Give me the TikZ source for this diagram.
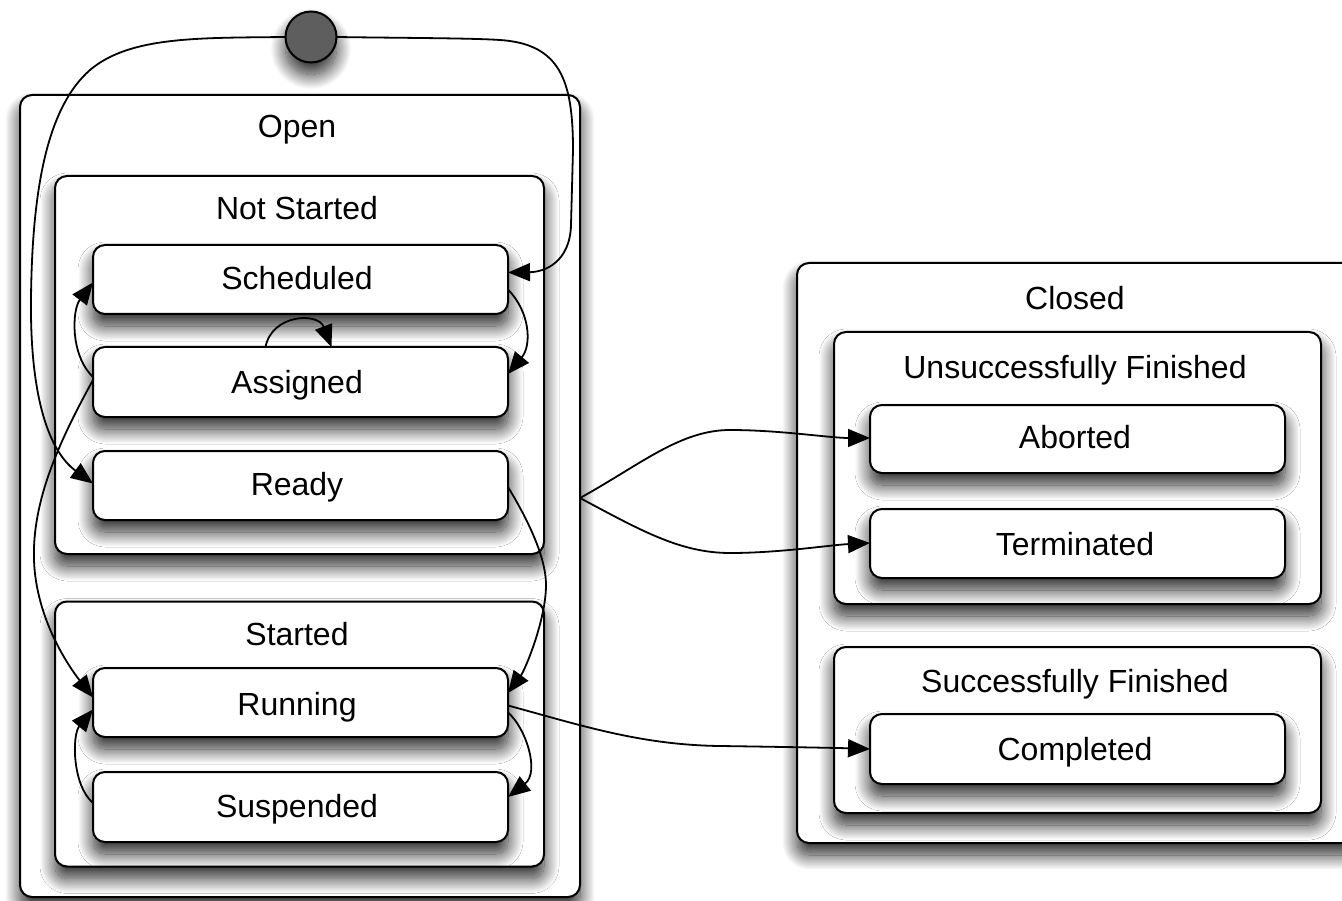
\documentclass[tikz,border=0pt]{standalone}
\usepackage{fontspec}
\setmainfont{Liberation Sans}
\usetikzlibrary{arrows.meta,calc,shadows.blur}

\begin{document}
\begin{tikzpicture}[x=1pt,y=-1pt,
  shade/.style={blur shadow={shadow xshift=0pt,shadow yshift=-12pt,shadow blur radius=15pt,shadow blur steps=24,shadow opacity=85}},
  box/.style={draw,line width=2pt,rounded corners=12pt,fill=white,inner sep=0pt,outer sep=0pt,shade},
  lbl/.style={font=\fontsize{32}{38}\selectfont,anchor=base,inner sep=0pt},
  edge/.style={line width=1.8pt,-{Triangle[length=22pt,width=18pt]}},
  initstate/.style={circle,draw,line width=2pt,fill=black!63,minimum size=51pt,inner sep=0pt,outer sep=0pt,shade}]
\useasboundingbox (0,0) rectangle (1342,901);

% initial pseudo-state
\node[initstate] (init) at (311,37) {};

% Open composite state
\node[box,minimum width=560pt,minimum height=802pt] (open) at (300,496) {};
\node[lbl] (openT) at (297,138) {Open};

\node[box,minimum width=489pt,minimum height=378pt] (notstarted) at (299.5,365) {};
\node[lbl] (notstartedT) at (297,220) {Not Started};

\node[box,minimum width=415pt,minimum height=69pt] (sched) at (300.5,279.5) {};
\node[lbl] (schedT) at (297,290) {Scheduled};
\node[box,minimum width=415pt,minimum height=70pt] (assigned) at (300.5,382) {};
\node[lbl] (assignedT) at (297,393) {Assigned};
\node[box,minimum width=415pt,minimum height=69pt] (ready) at (300.5,485.5) {};
\node[lbl] (readyT) at (297,495) {Ready};

\node[box,minimum width=489pt,minimum height=265pt] (started) at (299.5,734) {};
\node[lbl] (startedT) at (297,645) {Started};
\node[box,minimum width=415pt,minimum height=69pt] (running) at (300.5,702.5) {};
\node[lbl] (runningT) at (297,715) {Running};
\node[box,minimum width=415pt,minimum height=70pt] (suspended) at (300.5,807) {};
\node[lbl] (suspendedT) at (297,817) {Suspended};

% Closed composite state
\node[box,minimum width=573pt,minimum height=580pt] (closed) at (1083.5,553) {};
\node[lbl] (closedT) at (1075,310) {Closed};

\node[box,minimum width=487pt,minimum height=272pt] (unsucc) at (1077.5,468) {};
\node[lbl] (unsuccT) at (1075,378) {Unsuccessfully Finished};
\node[box,minimum width=415pt,minimum height=68pt] (aborted) at (1077.5,439) {};
\node[lbl] (abortedT) at (1075,448) {Aborted};
\node[box,minimum width=415pt,minimum height=69pt] (term) at (1077.5,543.5) {};
\node[lbl] (termT) at (1075,555) {Terminated};

\node[box,minimum width=487pt,minimum height=166pt] (succ) at (1077.5,730) {};
\node[lbl] (succT) at (1075,692) {Successfully Finished};
\node[box,minimum width=415pt,minimum height=70pt] (completed) at (1077.5,749) {};
\node[lbl] (completedT) at (1075,760) {Completed};

% transitions
\draw[edge] (init.east) .. controls (400,38) and (470,38) .. (500,40)
  .. controls (560,44) and (573,80) .. (573,150) -- (571,225)
  .. controls (570,262) and (545,272) .. ($(sched.east)+(0,-7)$);
\draw[edge] (init.west) .. controls (200,38) and (130,36) .. (90,70)
  .. controls (50,105) and (32,180) .. (31,300)
  .. controls (30,400) and (50,452) .. ($(ready.west)+(0,-2)$);
\draw[edge] ($(sched.east)+(0,10)$) .. controls (530,312) and (532,345) .. ($(assigned.east)+(0,-8)$);
\draw[edge] ($(assigned.west)+(0,-5)$) .. controls (70,355) and (72,310) .. ($(sched.west)+(0,3)$);
\draw[edge] ($(assigned.north)+(-35,0)$) .. controls (272,314) and (318,312) .. ($(assigned.north)+(31,0)$);
\draw[edge] ($(assigned.west)+(0,-2)$) .. controls (60,440) and (32,500) .. (34,560)
  .. controls (36,620) and (70,668) .. ($(running.west)+(0,-5)$);
\draw[edge] ($(ready.east)+(0,1.5)$) .. controls (525,515) and (546,555) .. (546,585)
  .. controls (546,620) and (525,670) .. ($(running.east)+(0,-9.5)$);
\draw[edge] ($(running.east)+(0,10)$) .. controls (526,728) and (540,772) .. ($(suspended.east)+(0,-10)$);
\draw[edge] ($(suspended.west)+(0,-4)$) .. controls (72,785) and (72,735) .. ($(running.west)+(0,7)$);
\draw[edge] ($(open.east)+(0,2)$) .. controls (640,465) and (680,430) .. (730,430)
  .. controls (780,430) and (830,438) .. ($(aborted.west)+(0,-1)$);
\draw[edge] ($(open.east)+(0,2)$) .. controls (640,530) and (680,553) .. (730,553)
  .. controls (780,553) and (830,545) .. ($(term.west)+(0,-0.5)$);
\draw[edge] ($(running.east)+(0,3)$) .. controls (580,725) and (640,745) .. (720,746)
  .. controls (790,747) and (840,748) .. (completed.west);
\end{tikzpicture}
\end{document}
